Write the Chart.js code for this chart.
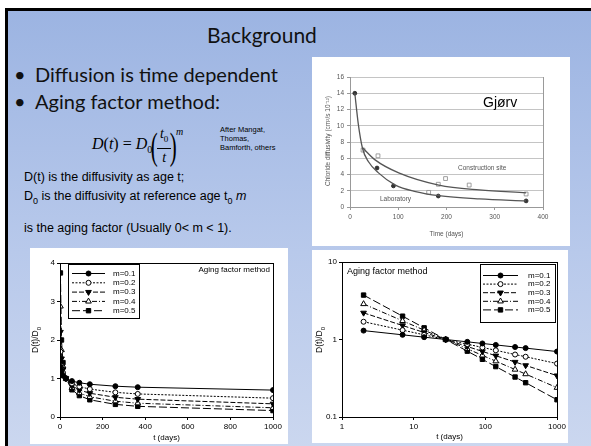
<!DOCTYPE html>
<html>
<head>
<meta charset="utf-8">
<script src="https://cdn.jsdelivr.net/npm/chart.js@4/dist/chart.umd.min.js"></script>
<style>
  html,body{margin:0;padding:0;background:#fff;}
  body{width:591px;height:446px;position:relative;overflow:hidden;}
  #slide{position:absolute;left:5px;top:8px;width:583px;height:438px;
    border-left:3px solid #000;border-top:3px solid #000;
    background:linear-gradient(to bottom,#9cb4e2 0%,#b8c9eb 55%,#cbd7ef 100%);}
  .abs{position:absolute;white-space:nowrap;}
  #title{left:162px;top:22px;width:200px;text-align:center;font:21px Lato,"Open Sans",sans-serif;color:#111;}
  .bul{font:20px Lato,"Open Sans",sans-serif;color:#111;}
  .bul b{position:absolute;left:-21px;font-weight:normal;}
  #formula{left:92px;top:124px;font:italic 16px "Liberation Serif",serif;color:#000;}
  #formula .up{font-style:normal;}
  .paren{font-style:normal;font-size:38px;display:inline-block;transform:scaleX(0.55);vertical-align:-10px;margin:0 -4px;font-weight:100;}
  .frac{display:inline-block;vertical-align:middle;text-align:center;font-size:14px;line-height:17px;}
  .frac .n{display:block;border-bottom:1px solid #000;padding:0 3px;}
  .frac .d{display:block;}
  #refs{left:220px;top:125px;font:7.5px "Liberation Sans",Arial,sans-serif;line-height:9px;color:#000;}
  .txt{font:12.5px "Liberation Sans",Arial,sans-serif;color:#000;}
  .box{position:absolute;background:#fff;}
  canvas{position:absolute;}
  #gj{left:483px;top:94px;font:14px "Liberation Sans",Arial,sans-serif;color:#000;}
</style>
</head>
<body>
<div id="slide"></div>
<div id="title" class="abs">Background</div>
<div class="abs bul" style="left:35px;top:62px;"><b>•</b>Diffusion is time dependent</div>
<div class="abs bul" style="left:35px;top:89px;"><b>•</b>Aging factor method:</div>
<div id="formula" class="abs">D<span class="up">(</span>t<span class="up">)</span> <span class="up">=</span> D<sub class="up" style="font-size:10px">0</sub><span class="paren">(</span><span class="frac"><span class="n">t<sub class="up" style="font-size:9px">0</sub></span><span class="d">t</span></span><span class="paren">)</span><sup style="font-size:10px;vertical-align:14px">m</sup></div>
<div id="refs" class="abs">After Mangat,<br>Thomas,<br>Bamforth, others</div>
<div class="abs txt" style="left:24px;top:170px;">D(t) is the diffusivity as age t;</div>
<div class="abs txt" style="left:24px;top:189px;">D<sub style="font-size:9px">0</sub> is the diffusivity at reference age t<sub style="font-size:9px">0</sub> <i>m</i></div>
<div class="abs txt" style="left:24px;top:221px;">is the aging factor (Usually 0&lt; m &lt; 1).</div>

<div class="box" style="left:312px;top:57px;width:258px;height:189px;"></div>
<canvas id="c1" width="258" height="189" style="left:312px;top:57px;width:258px;height:189px;filter:blur(0.45px);"></canvas>
<div id="gj" class="abs">Gjørv</div>

<div class="box" style="left:30px;top:248px;width:258px;height:196px;"></div>
<canvas id="c2" width="258" height="196" style="left:30px;top:248px;width:258px;height:196px;"></canvas>

<div class="box" style="left:312px;top:250px;width:256px;height:193px;"></div>
<canvas id="c3" width="256" height="193" style="left:312px;top:250px;width:256px;height:193px;"></canvas>

<script>
/* ---- data ---- */
var days = [2, 7, 14, 28, 56, 91, 140, 260, 365, 1000];
var mLabels = ['m=0.1','m=0.2','m=0.3','m=0.4','m=0.5'];
var m01 = [1.302, 1.149, 1.072, 1.0, 0.933, 0.889, 0.851, 0.800, 0.774, 0.699];
var m02 = [1.695, 1.320, 1.149, 1.0, 0.871, 0.790, 0.725, 0.640, 0.599, 0.489];
var m03 = [2.207, 1.516, 1.231, 1.0, 0.812, 0.702, 0.617, 0.512, 0.463, 0.342];
var m04 = [2.874, 1.741, 1.320, 1.0, 0.758, 0.624, 0.525, 0.410, 0.358, 0.239];
var m05 = [3.742, 2.000, 1.414, 1.0, 0.707, 0.555, 0.447, 0.328, 0.277, 0.167];

var labT = [10, 56, 90, 183, 365];
var labD = [14, 4.8, 2.6, 1.35, 0.75];
var siteT = [27, 58, 163, 183, 198, 247, 365];
var siteD = [7.0, 6.3, 1.8, 2.8, 3.5, 2.7, 1.6];
var labCurveT = [10, 17, 26, 38, 59, 94, 136, 184, 268, 365];
var labCurveD = [14, 10.3, 7.2, 5.6, 4.2, 2.7, 1.9, 1.4, 1.0, 0.75];
var siteCurveT = [26, 52, 101, 184, 268, 365];
var siteCurveD = [7.3, 5.8, 4.2, 2.7, 2.1, 1.75];

var linTicks = [0, 200, 400, 600, 800, 1000];
var logXTicks = [1, 10, 100, 1000];
var logYTicks = [0.1, 1, 10];

var FONT = '"Liberation Sans", Arial, sans-serif';

function pts(xs, ys){ return xs.map(function(x,i){ return {x:x, y:ys[i]}; }); }
function plain(v){ return String(v); }

var seriesStyle = [
  {dash:[], style:'circle', fill:'#000', r:2.5, rot:0},
  {dash:[2,1.5], style:'circle', fill:'#fff', r:2.5, rot:0},
  {dash:[5,2], style:'triangle', fill:'#000', r:3.3, rot:180},
  {dash:[5,2,1,2], style:'triangle', fill:'#fff', r:3.3, rot:0},
  {dash:[8,3], style:'rect', fill:'#000', r:3.1, rot:0}
];

function agingSets(){
  var vals = [m01, m02, m03, m04, m05];
  return vals.map(function(v,i){
    var s = seriesStyle[i];
    return {
      label: mLabels[i], data: pts(days, v),
      borderColor:'#000', borderWidth:1, borderDash:s.dash,
      pointStyle:s.style, pointRadius:s.r, pointRotation:s.rot,
      pointBackgroundColor:s.fill, pointBorderColor:'#000', pointBorderWidth:1
    };
  });
}

// frame, legend box and free text for the aging charts
var agingDecor = {
  id:'agingDecor',
  afterDraw:function(chart, args, o){
    var ctx = chart.ctx, a = chart.chartArea;
    ctx.save();
    ctx.strokeStyle = '#000'; ctx.lineWidth = 1;
    ctx.strokeRect(Math.round(a.left)+0.5, Math.round(a.top)+0.5, Math.round(a.right-a.left), Math.round(a.bottom-a.top));
    // legend
    var L = o.legend;
    ctx.fillStyle = '#fff';
    ctx.fillRect(L.x, L.y, L.w, L.h);
    ctx.strokeRect(L.x+0.5, L.y+0.5, L.w, L.h);
    chart.data.datasets.forEach(function(ds, i){
      var y = L.y + L.first + i*L.step;
      ctx.setLineDash(ds.borderDash);
      ctx.beginPath(); ctx.moveTo(L.x1, y+0.5); ctx.lineTo(L.x2, y+0.5); ctx.stroke();
      ctx.setLineDash([]);
      ctx.fillStyle = ds.pointBackgroundColor;
      Chart.helpers.drawPoint(ctx, {pointStyle:ds.pointStyle, radius:ds.pointRadius, rotation:ds.pointRotation, borderWidth:1}, (L.x1+L.x2)/2, y+0.5);
      ctx.fillStyle = '#000';
      ctx.font = '8px ' + FONT; ctx.textAlign = 'left'; ctx.textBaseline = 'middle';
      ctx.fillText(ds.label, L.tx, y+0.5);
    });
    // caption
    ctx.fillStyle = '#000';
    ctx.font = o.cap.size + 'px ' + FONT; ctx.textAlign = o.cap.align; ctx.textBaseline = 'middle';
    ctx.fillText('Aging factor method', o.cap.x, o.cap.y);
    // y title with subscript
    ctx.translate(o.yt.x, o.yt.y); ctx.rotate(-Math.PI/2);
    ctx.font = '8.5px ' + FONT; ctx.textAlign = 'left'; ctx.textBaseline = 'middle';
    var w1 = ctx.measureText('D(t)/D').width;
    ctx.font = '6px ' + FONT;
    var w2 = ctx.measureText('0').width;
    var x0 = -(w1 + w2)/2;
    ctx.font = '8.5px ' + FONT; ctx.fillText('D(t)/D', x0, 0);
    ctx.font = '6px ' + FONT; ctx.fillText('0', x0 + w1, 3);
    ctx.restore();
  }
};

function tickGrid(){ return {display:true, drawOnChartArea:false, drawTicks:true, tickLength:3, color:'#000'}; }

/* ---- bottom-left: linear ---- */
new Chart(document.getElementById('c2'), {
  type:'line',
  data:{datasets:agingSets()},
  plugins:[agingDecor],
  options:{
    responsive:false, animation:false, events:[],
    layout:{padding:{left:0, right:15, top:15, bottom:0}},
    plugins:{legend:{display:false}, tooltip:{enabled:false},
      agingDecor:{
        legend:{x:38, y:16, w:71, h:54, first:9, step:9.3, x1:42, x2:75, tx:83},
        cap:{x:240, y:22, align:'right', size:8},
        yt:{x:6, y:92}
      }},
    scales:{
      x:{type:'linear', min:0, max:1000,
        afterBuildTicks:function(s){ s.ticks = linTicks.map(function(v){return {value:v};}); },
        afterFit:function(s){ s.height = 27; },
        grid:tickGrid(), border:{color:'#000', width:1},
        ticks:{font:{family:FONT, size:8}, color:'#000', padding:2, maxRotation:0, callback:plain},
        title:{display:true, text:'t (days)', font:{family:FONT, size:8}, color:'#000', padding:{top:0, bottom:1}}},
      y:{type:'linear', min:0, max:4,
        ticks:{stepSize:1, font:{family:FONT, size:8}, color:'#000', padding:2},
        afterFit:function(s){ s.width = 30; },
        grid:tickGrid(), border:{color:'#000', width:1}}
    }
  }
});

/* ---- bottom-right: log-log ---- */
new Chart(document.getElementById('c3'), {
  type:'line',
  data:{datasets:agingSets()},
  plugins:[agingDecor],
  options:{
    responsive:false, animation:false, events:[],
    layout:{padding:{left:0, right:11, top:12, bottom:0}},
    plugins:{legend:{display:false}, tooltip:{enabled:false},
      agingDecor:{
        legend:{x:168, y:14, w:75, h:58, first:11, step:8.6, x1:171, x2:206, tx:216},
        cap:{x:35, y:22, align:'left', size:9},
        yt:{x:8, y:90}
      }},
    scales:{
      x:{type:'logarithmic', min:1, max:1000,
        afterBuildTicks:function(s){ s.ticks = logXTicks.map(function(v){return {value:v};}); },
        afterFit:function(s){ s.height = 26; },
        grid:tickGrid(), border:{color:'#000', width:1},
        ticks:{font:{family:FONT, size:8}, color:'#000', padding:2, maxRotation:0, callback:plain},
        title:{display:true, text:'t (days)', font:{family:FONT, size:8}, color:'#000', padding:{top:0, bottom:1}}},
      y:{type:'logarithmic', min:0.1, max:10,
        afterBuildTicks:function(s){ s.ticks = logYTicks.map(function(v){return {value:v};}); },
        afterFit:function(s){ s.width = 30; },
        ticks:{font:{family:FONT, size:8}, color:'#000', padding:2, callback:plain},
        grid:tickGrid(), border:{color:'#000', width:1}}
    }
  }
});

/* ---- top-right: Gjørv figure ---- */
var gjDecor = {
  id:'gjDecor',
  afterDraw:function(chart){
    var ctx = chart.ctx, a = chart.chartArea;
    ctx.save();
    ctx.strokeStyle = '#9a9a9a'; ctx.lineWidth = 1;
    ctx.beginPath(); ctx.moveTo(Math.round(a.right)+0.5, a.top); ctx.lineTo(Math.round(a.right)+0.5, a.bottom); ctx.stroke();
    ctx.fillStyle = '#555';
    ctx.font = '6.5px ' + FONT; ctx.textBaseline = 'middle'; ctx.textAlign = 'left';
    ctx.fillText('Construction site', 146, 111);
    ctx.fillText('Laboratory', 68, 142);
    ctx.translate(16, 84); ctx.rotate(-Math.PI/2);
    ctx.textAlign = 'center';
    ctx.fillText('Chloride diffusivity (cm\u00b2/s 10\u207b\u00b9\u00b2)', 0, 0);
    ctx.restore();
  }
};

new Chart(document.getElementById('c1'), {
  type:'line',
  data:{datasets:[
    {data:pts(labCurveT, labCurveD), borderColor:'#555', borderWidth:1.3, pointRadius:0, cubicInterpolationMode:'monotone'},
    {data:pts(siteCurveT, siteCurveD), borderColor:'#555', borderWidth:1.3, pointRadius:0, cubicInterpolationMode:'monotone'},
    {data:pts(labT, labD), showLine:false, pointStyle:'circle', pointRadius:1.9, pointBackgroundColor:'#333', pointBorderColor:'#333'},
    {data:pts(siteT, siteD), showLine:false, pointStyle:'rect', pointRadius:2.7, pointBackgroundColor:'#fff', pointBorderColor:'#888', pointBorderWidth:0.8}
  ]},
  plugins:[gjDecor],
  options:{
    responsive:false, animation:false, events:[],
    layout:{padding:{left:0, right:27, top:20, bottom:0}},
    plugins:{legend:{display:false}, tooltip:{enabled:false}},
    scales:{
      x:{type:'linear', min:0, max:400,
        ticks:{stepSize:100, font:{family:FONT, size:6.5}, color:'#555', padding:3, maxRotation:0},
        afterFit:function(s){ s.height = 39; },
        grid:{display:true, drawOnChartArea:false, drawTicks:true, tickLength:3, color:'#999'},
        border:{color:'#999', width:1},
        title:{display:true, text:'Time (days)', font:{family:FONT, size:6.5}, color:'#555', padding:{top:0, bottom:8}}},
      y:{type:'linear', min:0, max:16,
        ticks:{stepSize:2, font:{family:FONT, size:6.5}, color:'#555', padding:3},
        afterFit:function(s){ s.width = 38; },
        grid:{color:'#c4c4c4', tickLength:3, tickColor:'#999'},
        border:{color:'#999', width:1}}
    }
  }
});
</script>
</body>
</html>
